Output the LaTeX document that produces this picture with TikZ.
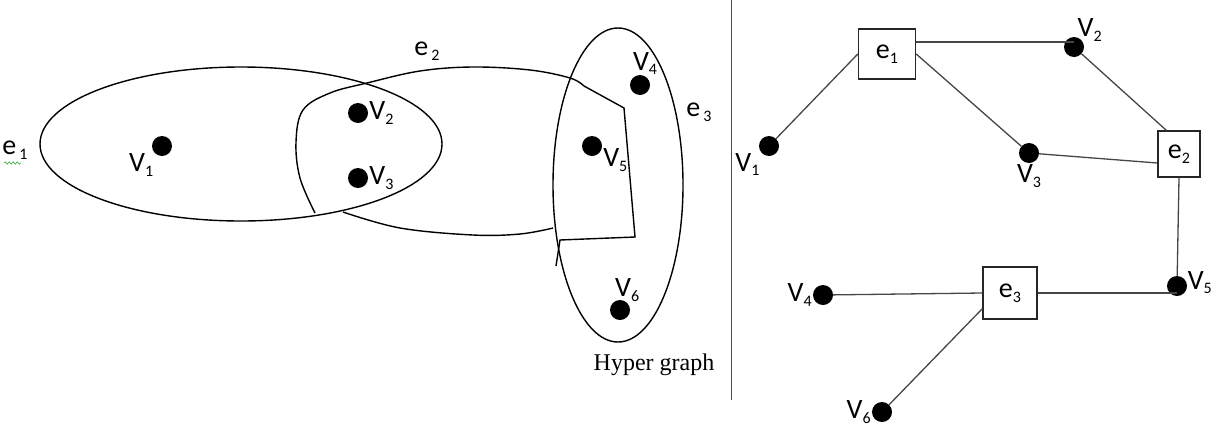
\documentclass[tikz,border=0pt]{standalone}
\usepackage{fontspec}
\setmainfont{Liberation Serif}
\newfontfamily\lblfont{Carlito}
\usetikzlibrary{shapes.geometric,decorations.pathmorphing}
\definecolor{lnk}{RGB}{70,70,70}
\definecolor{spell}{RGB}{60,170,60}
\newcommand{\idx}[1]{\raisebox{-0.35ex}{\fontsize{16}{16}\selectfont #1}}

\begin{document}
\begin{tikzpicture}[x=1pt, y=-1pt,
  hedge/.style={draw, ellipse, line width=1.4pt, inner sep=0pt},
  vtx/.style={circle, fill=black, minimum size=20pt, inner sep=0pt,
              label distance=-3pt},
  lbl/.style={font=\lblfont\fontsize{28}{28}\selectfont, inner sep=1pt},
  ebox/.style={draw=black!85, line width=1.4pt, inner sep=0pt,
               font=\lblfont\fontsize{28}{28}\selectfont},
  link/.style={draw=lnk, line width=1.3pt}
]
\useasboundingbox (0,0) rectangle (1217,426);

% hyper graph
\node[hedge, minimum width=402pt, minimum height=154pt] (he1) at (241,144) {};
\node[hedge, minimum width=130pt, minimum height=314pt] (he3) at (618,185) {};
\draw[line width=1.4pt] plot[smooth, tension=0.6] coordinates
  {(315,213) (300,178) (296,142) (303,110) (330,93) (367,83) (420,71)
   (473,67) (530,70) (570,78) (584,86)}
  -- (624,108) -- (635,237) -- (560,240) -- (556,266);
\draw[line width=1.4pt] plot[smooth, tension=0.6] coordinates
  {(343,212) (400,228) (473,235) (520,234) (553,228)};

\node[lbl] (le1) at (15,150) {e\kern3pt\idx{1}};
\draw[spell, line width=0.6pt, decorate,
      decoration={snake, amplitude=1.2pt, segment length=4pt}] (4,163) -- (21,163);
\node[lbl] (le2) at (427,51) {e\kern3pt\idx{2}};
\node[lbl] (le3) at (699,112) {e\kern3pt\idx{3}};

\node[vtx, label={[lbl]222:V\idx{1}}] (lv1) at (162,146) {};
\node[vtx, label={[lbl]0:V\idx{2}}] (lv2) at (358,113) {};
\node[vtx, label={[lbl]0:V\idx{3}}] (lv3) at (358,178) {};
\node[vtx, label={[lbl, anchor=south]60:V\idx{4}}] (lv4) at (640,85) {};
\node[vtx, label={[lbl]-10:V\idx{5}}] (lv5) at (592,146) {};
\node[vtx, label={[lbl, anchor=south]45:V\idx{6}}] (lv6) at (620,310) {};

\node[font=\fontsize{24}{24}\selectfont] (cap) at (654,365) {Hyper graph};

\draw[black!70, line width=1pt] (731,0) -- (731,400);

% incidence graph
\node[ebox, minimum width=57pt, minimum height=50pt] (be1) at (887,54) {e\idx{1}};
\node[ebox, minimum width=42pt, minimum height=46pt] (be2) at (1179,154) {e\idx{2}};
\node[ebox, minimum width=54pt, minimum height=52pt] (be3) at (1010,293) {e\idx{3}};

\node[vtx, label={[lbl]215:V\idx{1}}] (rv1) at (769,146) {};
\node[vtx, label={[lbl, label distance=-5pt]62:V\idx{2}}] (rv2) at (1074,47) {};
\node[vtx, label={[lbl]-90:V\idx{3}}] (rv3) at (1029,153) {};
\node[vtx, label={[lbl]180:V\idx{4}}] (rv4) at (823,295) {};
\node[vtx, label={[lbl, anchor=west]20:V\idx{5}}] (rv5) at (1177,286) {};
\node[vtx, label={[lbl]180:V\idx{6}}] (rv6) at (882,412) {};

\draw[link] ([yshift=12pt]be1.east) -- ([yshift=5pt]rv2.center);
\draw[link] (be1.west) -- (rv1);
\draw[link] (be1.east) -- (rv3);
\draw[link] (rv2) -- ([xshift=9pt]be2.north west);
\draw[link] (rv3) -- ([yshift=-9pt]be2.west);
\draw[link] (be2.south) -- (rv5);
\draw[link] (be3.west) -- (rv4);
\draw[link] (be3.east) -- (be3.east -| rv5);
\draw[link] ([yshift=11pt]be3.south west) -- (rv6);
\end{tikzpicture}
\end{document}
